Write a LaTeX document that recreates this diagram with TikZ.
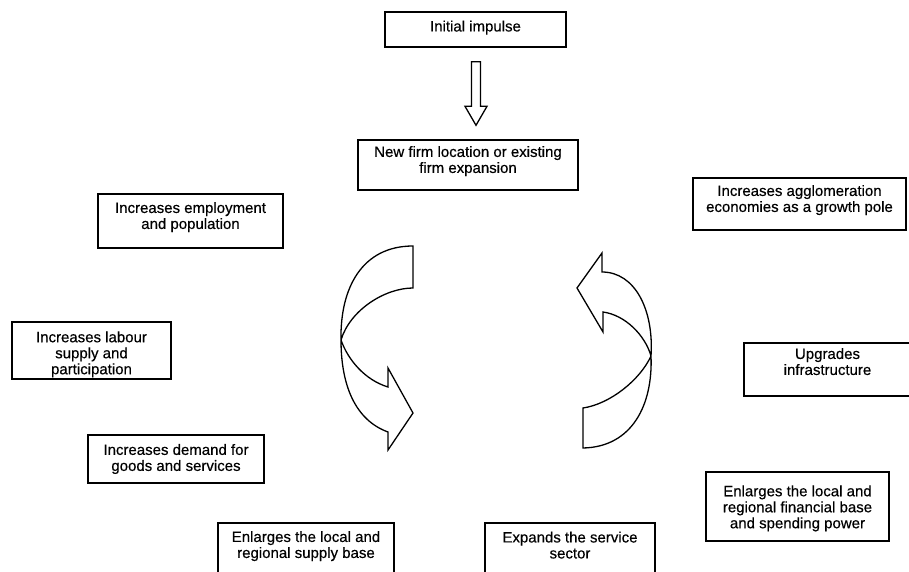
\documentclass[tikz,border=0pt]{standalone}
\usepackage{fontspec}
\setmainfont{Liberation Sans}[FakeBold=0.4]
\usetikzlibrary{calc}
% invisible struts that move a box's text up (depth) or down (height)
\newcommand\padbelow[1]{\rule[-#1]{0pt}{#1}}
\newcommand\padabove[1]{\rule{0pt}{#1}}
\begin{document}
\begin{tikzpicture}[x=1pt,y=-1pt,
  box/.style={draw, line width=1.4pt, align=center, inner sep=0pt,
    font=\fontsize{15}{16}\selectfont},
  hollow/.style={draw, line width=1.3pt, fill=white, line join=miter}]
\useasboundingbox (0,0) rectangle (909,572);

% boxes of the growth cycle
\node[box, minimum width=181pt, minimum height=35pt] (init) at (475.5,29.5) {Initial impulse\padbelow{7pt}};
\node[box, minimum width=220pt, minimum height=50pt] (newfirm) at (468,165) {New firm location or existing\\firm expansion\padbelow{11pt}};
\node[box, minimum width=185pt, minimum height=54pt] (employ) at (190.5,221) {Increases employment\\and population\padbelow{11pt}};
\node[box, minimum width=159pt, minimum height=57pt] (labour) at (91.5,350.5) {\padabove{18.6pt}Increases labour\\supply and\\participation};
\node[box, minimum width=176pt, minimum height=48pt] (demand) at (176,459) {Increases demand for\\goods and services};
\node[box, minimum width=176pt, minimum height=52pt] (supply) at (306,549) {Enlarges the local and\\regional supply base\padbelow{9pt}};
\node[box, minimum width=170pt, minimum height=52pt] (service) at (570,549) {Expands the service\\sector\padbelow{8pt}};
\node[box, minimum width=213pt, minimum height=52pt] (agglom) at (799.5,204) {Increases agglomeration\\economies as a growth pole\padbelow{11pt}};
\node[box, minimum width=167pt, minimum height=53pt] (infra) at (827.5,369.5) {Upgrades\\infrastructure\padbelow{16pt}};
\node[box, minimum width=183pt, minimum height=69pt] (finance) at (797.5,506.5) {\padabove{14.6pt}Enlarges the local and\\regional financial base\\and spending power};

% hollow arrow from the impulse to the new firm
\coordinate (dtop) at ($(init.south)+(0.5,14)$);
\coordinate (dtip) at ($(dtop |- newfirm.north)+(0,-14)$);
\draw[hollow] ($(dtop)+(-4.5,0)$) -- ($(dtip)+(-4.5,-19)$) -- ($(dtip)+(-11,-19)$) -- (dtip)
  -- ($(dtip)+(11,-19)$) -- ($(dtip)+(4.5,-19)$) -- ($(dtop)+(4.5,0)$) -- cycle;

% left curved arrow, turning downwards
\draw[hollow] (413,246) .. controls (362,246) and (340,288) .. (341,340)
  .. controls (341,385) and (355,420) .. (388,432)
  -- (388,450) -- (413,413) -- (388,368) -- (388,387)
  .. controls (365,380) and (348,360) .. (341,340)
  .. controls (350,310) and (385,288) .. (413,288) -- cycle;

% right curved arrow, turning upwards
\draw[hollow] (583,408) .. controls (610,404) and (640,380) .. (651,356)
  .. controls (654,310) and (635,272) .. (602,272)
  -- (602,253) -- (577,288) -- (603,332) -- (603,312)
  .. controls (625,315) and (645,335) .. (651,356)
  .. controls (653,405) and (632,447) .. (583,448) -- cycle;
\end{tikzpicture}
\end{document}
